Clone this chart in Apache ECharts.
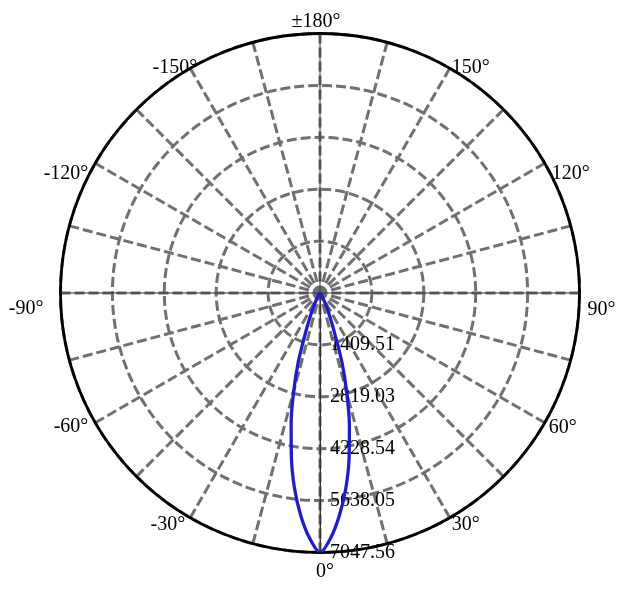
<!DOCTYPE html>
<html><head><meta charset="utf-8">
<script src="https://cdn.jsdelivr.net/npm/echarts@6/dist/echarts.min.js"></script>
<style>html,body{margin:0;padding:0;background:#fff}#chart{width:622px;height:590px}</style>
</head><body><div id="chart"></div>
<script>
// Beam angles (deg, 0 = down, positive toward the right) and luminous intensity (cd)
const beamAngles = [-180,-150,-120,-90,-60,-50,-45,-40,-35,-30,-27.5,-25,-22.5,-20,-17.5,-15,-12.5,-10,-7.5,-5,-2.5,
  0,2.5,5,7.5,10,12.5,15,17.5,20,22.5,25,27.5,30,35,40,45,50,60,90,120,150,180];
const beamIntensity = [0,0,0,0,3,9,18,35,70,140,250,430,700,1150,1960,2760,3620,4480,5330,6050,6650,
  7047.56,6660,6060,5360,4550,3690,2810,2000,1160,720,440,250,140,70,35,18,9,3,0,0,0,0];
const radiusMax = 7047.56;
const radiusStep = 1409.512;
const radiusTickLabels = ['1409.51','2819.03','4228.54','5638.05','7047.56'];
const angleTickValues = [0,30,60,90,120,150,180,210,240,270,300,330];
const angleTickLabels = ['0°','30°','60°','90°','120°','150°','±180°','-150°','-120°','-90°','-60°','-30°'];

const FONT = '"Liberation Serif","Times New Roman",serif';
// per-label fine placement (padding top,right,bottom,left)
const labelPads = [
  [1,0,0,10],    // 0
  [-10,0,0,-2],  // 30
  [-9,0,0,-3],   // 60
  [33,0,0,0],    // 90
  [0,0,-28,0],   // 120
  [0,0,-16,-2],  // 150
  [0,8,-6,0],    // 180
  [0,-11,-16,0], // -150
  [0,0,-28,0],   // -120
  [32,9,0,0],    // -90
  [-10,0,0,0],   // -60
  [-10,1,0,0]    // -30
];
const rich = {};
angleTickValues.forEach((v, i) => {
  rich['a' + i] = {fontFamily: FONT, fontSize: 20, color: '#000', padding: labelPads[i]};
});

const curve = beamAngles.map((a, i) => [beamIntensity[i], a < 0 ? a + 360 : a]);
const crossH = [[radiusMax, 90], [0, 0], [radiusMax, 270]];
const crossV = [[radiusMax, 0], [0, 0], [radiusMax, 180]];

const chart = echarts.init(document.getElementById('chart'), null, {renderer: 'canvas'});
chart.setOption({
  backgroundColor: '#fff',
  animation: false,
  polar: {center: [320, 293], radius: 259.5},
  angleAxis: {
    type: 'value', min: 0, max: 360, interval: 15,
    startAngle: 270, clockwise: false,
    axisLine: {show: true, lineStyle: {color: '#000', width: 2.8}},
    axisTick: {show: false},
    axisLabel: {
      show: true, margin: 8,
      fontFamily: FONT, fontSize: 20, color: '#000',
      formatter: function (v) {
        const i = angleTickValues.indexOf(v);
        return i < 0 ? '' : '{a' + i + '|' + angleTickLabels[i] + '}';
      },
      rich: rich
    },
    splitLine: {show: true, lineStyle: {color: '#707070', width: 3, type: [10, 4]}}
  },
  radiusAxis: {
    type: 'value', min: 0, max: radiusMax, interval: radiusStep,
    axisLine: {show: true, lineStyle: {color: '#333', width: 1}},
    axisTick: {show: false},
    axisLabel: {
      show: true, margin: 10, fontFamily: FONT, fontSize: 20, color: '#000',
      showMinLabel: false,
      formatter: function (v, i) { return i >= 1 ? radiusTickLabels[i - 1] : ''; }
    },
    splitLine: {show: true, lineStyle: {color: '#707070', width: 3, type: [10, 4]}}
  },
  series: [
    {type: 'line', coordinateSystem: 'polar', data: crossH, showSymbol: false, silent: true,
     lineStyle: {color: '#333', width: 1}, z: 1},
    {type: 'line', coordinateSystem: 'polar', data: crossV, showSymbol: false, silent: true,
     lineStyle: {color: '#333', width: 1}, z: 1},
    {type: 'line', coordinateSystem: 'polar', data: curve, showSymbol: false, smooth: 0.3,
     lineStyle: {color: '#1e1ec8', width: 3.3}, z: 3}
  ]
});
</script></body></html>
